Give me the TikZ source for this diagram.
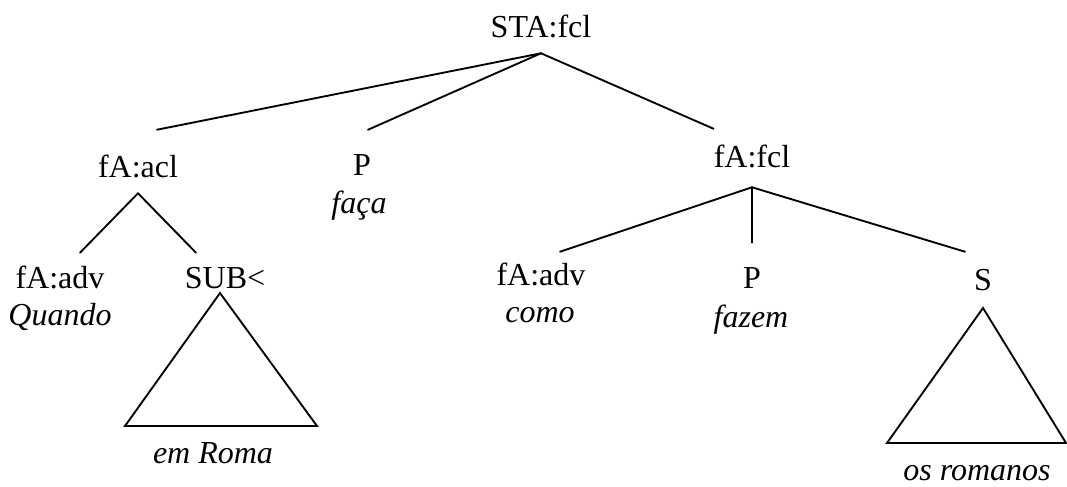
\documentclass[tikz,border=0pt]{standalone}
\usepackage{fontspec}
\setmainfont{Liberation Serif}
\usetikzlibrary{calc}

\tikzset{
  cat/.style={anchor=base, inner xsep=0pt, inner ysep=12pt, text height=16.5pt, text depth=0pt,
    font=\fontsize{24}{28}\selectfont},
  word/.style={anchor=base, inner sep=0pt, font=\fontsize{24}{28}\selectfont\itshape},
  branch/.style={line width=1.4pt, line cap=round}
}

\begin{document}
\begin{tikzpicture}[x=0.75pt,y=-0.75pt]
\useasboundingbox (0,0) rectangle (1067,486);
% top level
\node[cat] (sta) at (541,37) {STA:fcl};
\node[cat] (acl) at (138,177) {fA:acl};
\node[cat] (pa) at (362,175) {P};
\node[word] (faca) at (359,213) {faça};
\node[cat] (fcl) at (752,167) {fA:fcl};
\draw[branch] (sta.south) -- ($(acl.north)+(19,-9)$);
\draw[branch] (sta.south) -- ($(pa.north)+(6,-7)$);
\draw[branch] (sta.south) -- (fcl.north west);
% left clause
\node[cat] (adva) at (60,288) {fA:adv};
\node[word] (quando) at (60,325) {Quando};
\node[cat] (sub) at (225,288) {SUB<};
\node[word] (roma) at (213,463) {em Roma};
\draw[branch] (acl.south) -- ($(adva.north)+(20,3)$);
\draw[branch] (acl.south) -- ($(sub.north)+(-29,3)$);
\draw[branch,line join=miter] ($(sub.base)+(-5,5)$) -- ++(-95,133) -- ++(192,0) -- cycle;
% right clause
\node[cat] (advb) at (541,285) {fA:adv};
\node[word] (como) at (540,322) {como};
\node[cat] (pb) at (752,288) {P};
\node[word] (fazem) at (751,327) {fazem};
\node[cat] (subj) at (983,290) {S};
\node[word] (romanos) at (977,480) {os romanos};
\draw[branch] ($(fcl.south)+(0,4)$) -- ($(advb.north)+(19,5)$);
\draw[branch] ($(fcl.south)+(0,4)$) -- ($(pb.north)+(0,-7)$);
\draw[branch] ($(fcl.south)+(0,4)$) -- ($(subj.north)+(-18,0)$);
\draw[branch,line join=miter] ($(subj.base)+(0,18)$) -- ++(-96,135) -- ++(179,0) -- cycle;
\end{tikzpicture}
\end{document}
